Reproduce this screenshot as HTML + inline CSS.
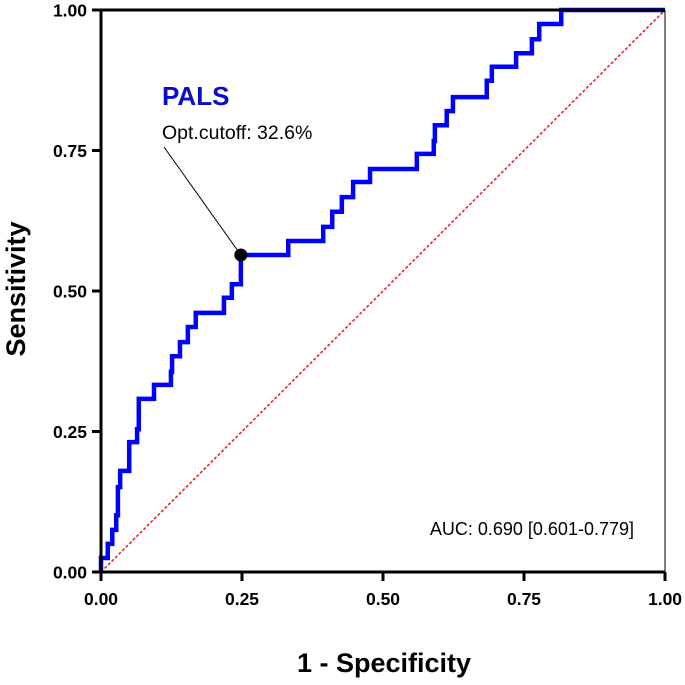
<!DOCTYPE html>
<html><head><meta charset="utf-8"><style>
html,body{margin:0;padding:0;background:#fff;}
svg{display:block;font-family:"Liberation Sans",Arial,sans-serif;}
</style></head><body>
<svg id="chart" width="685" height="685" viewBox="0 0 685 685">
<g id="plot"></g>
</svg>
<script>
const tickValues=[0,0.25,0.5,0.75,1];
const tickLabels=["0.00","0.25","0.50","0.75","1.00"];
const rocFpr=[0,0.012,0.020,0.027,0.030,0.034,0.050,0.064,0.067,0.094,0.124,0.126,0.140,0.154,0.168,0.218,0.232,0.248,0.332,0.394,0.410,0.427,0.447,0.477,0.560,0.590,0.592,0.613,0.624,0.684,0.693,0.736,0.764,0.777,0.816,1.0];
const rocTpr=[0.025,0.050,0.075,0.101,0.151,0.180,0.231,0.254,0.308,0.333,0.356,0.384,0.409,0.436,0.461,0.488,0.512,0.564,0.589,0.614,0.641,0.667,0.694,0.717,0.744,0.767,0.795,0.820,0.845,0.874,0.899,0.923,0.948,0.975,1.0,1.0];
const optPoint=[0.248,0.564];

const X0=101,X1=665,Y0=572,Y1=10;
const sx=v=>X0+v*(X1-X0);
const sy=v=>Y0-v*(Y0-Y1);
const NS="http://www.w3.org/2000/svg";
const g=document.getElementById('plot');
function el(tag,attrs,text){const e=document.createElementNS(NS,tag);for(const k in attrs)e.setAttribute(k,attrs[k]);if(text!==undefined)e.textContent=text;g.appendChild(e);return e;}

let e=el('line',{x1:sx(0),y1:sy(0),x2:sx(1),y2:sy(1),stroke:'#e8231f','stroke-width':1.6,'stroke-dasharray':'3,2'});



let d='M'+sx(0)+','+sy(0);
for(let i=0;i<rocFpr.length;i++){
  d+=' L'+sx(rocFpr[i])+','+(i===0?sy(0):sy(rocTpr[i-1]));
  d+=' L'+sx(rocFpr[i])+','+sy(rocTpr[i]);
}
e=el('path',{d:d,fill:'none',stroke:'#0000ff','stroke-width':4.5,'stroke-linejoin':'miter'});



e=el('line',{x1:X0,y1:Y1,x2:X1,y2:Y1,stroke:'#000','stroke-width':3});


e=el('line',{x1:X1,y1:Y1,x2:X1,y2:Y0,stroke:'#000','stroke-width':1});


e=el('line',{x1:X0,y1:Y1-1.5,x2:X0,y2:Y0+1.5,stroke:'#000','stroke-width':3});


e=el('line',{x1:X0-1.5,y1:Y0,x2:X1,y2:Y0,stroke:'#000','stroke-width':3});



for(let i=0;i<tickValues.length;i++){
  const v=tickValues[i];
  e=el('line',{x1:sx(v),y1:Y0,x2:sx(v),y2:Y0+9,stroke:'#000','stroke-width':3});
  
  
  e=el('text',{x:sx(v),y:Y0+33,'text-anchor':'middle','font-size':17.5,'font-weight':'bold'},tickLabels[i]);
  
  
  e=el('line',{x1:X0-9,y1:sy(v),x2:X0,y2:sy(v),stroke:'#000','stroke-width':3});
  
  
  e=el('text',{x:X0-14,y:sy(v)+6.5,'text-anchor':'end','font-size':17.5,'font-weight':'bold'},tickLabels[i]);
  
  
}

e=el('text',{x:384,y:672,'text-anchor':'middle','font-size':27,'font-weight':'bold'},'1 - Specificity');


e=el('text',{x:0,y:0,'text-anchor':'middle','font-size':27,'font-weight':'bold',transform:'translate(25,289) rotate(-90)'},'Sensitivity');



e=el('line',{x1:164,y1:147,x2:sx(optPoint[0]),y2:sy(optPoint[1]),stroke:'#000','stroke-width':1});


e=el('circle',{cx:sx(optPoint[0]),cy:sy(optPoint[1]),r:6.5,fill:'#000'});


e=el('text',{x:162,y:105,'font-size':26,'font-weight':'bold',fill:'#0a0ad0'},'PALS');


e=el('text',{x:162,y:139,'font-size':19.5,fill:'#000'},'Opt.cutoff: 32.6%');


e=el('text',{x:634,y:535,'text-anchor':'end','font-size':18,fill:'#000'},'AUC: 0.690 [0.601-0.779]');


</script>
</body></html>
